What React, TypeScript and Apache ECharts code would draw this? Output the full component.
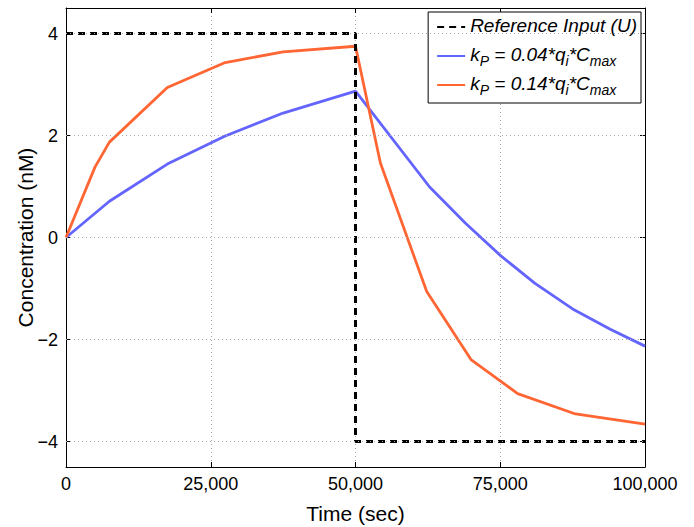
import React, { useEffect, useRef } from "react";
import * as echarts from "echarts";

const FONT = "'Liberation Sans', Arial, Helvetica, sans-serif";

const refT = [0, 50000, 50000, 100000];
const refV = [4, 4, -4, -4];

const blueT = [0, 7500, 17500, 27500, 37500, 50000, 62800, 69000, 75000, 81000, 87500, 94000, 100000];
const blueV = [0, 0.71, 1.44, 1.99, 2.44, 2.87, 0.99, 0.28, -0.35, -0.9, -1.4, -1.8, -2.13];

const orangeT = [0, 5000, 7500, 17500, 27500, 37500, 50000, 54300, 62300, 70000, 78000, 88000, 100000];
const orangeV = [0, 1.38, 1.87, 2.94, 3.43, 3.64, 3.75, 1.46, -1.06, -2.4, -3.06, -3.46, -3.66];

const xTicks = [0, 25000, 50000, 75000, 100000];
const yTicks = [-4, -2, 0, 2, 4];

const seriesNames = ["Reference Input (U)", "kP = 0.04*qi*Cmax", "kP = 0.14*qi*Cmax"];
const legendRichText: Record<string, string> = {
  "Reference Input (U)": "{n|Reference Input (U)}",
  "kP = 0.04*qi*Cmax": "{n|k}{s|P}{n| = 0.04*q}{s|i}{n|*C}{s|max}",
  "kP = 0.14*qi*Cmax": "{n|k}{s|P}{n| = 0.14*q}{s|i}{n|*C}{s|max}",
};

const zip = (t: number[], v: number[]) => t.map((x, i) => [x, v[i]]);
const fmtMinus = (v: number) => String(v).replace("-", "\u2212");
const fmtComma = (v: number) => v.toLocaleString("en-US");

export default function App() {
  const ref = useRef<HTMLDivElement>(null);
  useEffect(() => {
    if (!ref.current) return;
    const chart = echarts.init(ref.current, null, { renderer: "svg" });
    const axisLine = { show: true, onZero: false, lineStyle: { color: "#000", width: 1 } };
    const gridLineStyle = { color: "#aaaaaa", width: 1, type: [1, 3] as any };
    const tick = { show: true, inside: true, length: 5, lineStyle: { color: "#000" } };
    chart.setOption({
      animation: false,
      backgroundColor: "#fff",
      grid: { left: 66, right: 49, top: 8, bottom: 60, containLabel: false, outerBoundsMode: "none" },
      legend: {
        orient: "vertical",
        right: 53,
        top: 12,
        backgroundColor: "#fff",
        borderColor: "#000",
        borderWidth: 1,
        borderRadius: 0,
        padding: [3, 4, 6, 8],
        itemGap: 5,
        itemWidth: 28,
        itemHeight: 24,
        data: seriesNames,
        itemStyle: { color: "rgba(0,0,0,0)", borderWidth: 0 },
        formatter: (name: string) => legendRichText[name] || name,
        textStyle: {
          fontFamily: FONT,
          lineHeight: 24,
          rich: {
            n: {
              fontFamily: FONT,
              fontStyle: "italic",
              fontSize: 19,
              color: "#000",
              lineHeight: 24,
              verticalAlign: "top",
              padding: [1, 0, 0, 0],
            },
            s: {
              fontFamily: FONT,
              fontStyle: "italic",
              fontSize: 14,
              color: "#000",
              lineHeight: 24,
              verticalAlign: "bottom",
            },
          },
        },
      },
      xAxis: [
        {
          type: "value",
          min: 0,
          max: 100000,
          interval: 25000,
          position: "bottom",
          name: "Time (sec)",
          nameLocation: "middle",
          nameGap: 36,
          nameMoveOverlap: false,
          nameTextStyle: { fontFamily: FONT, fontSize: 21, color: "#000" },
          axisLine,
          axisTick: tick,
          axisLabel: { fontFamily: FONT, fontSize: 18, color: "#000", margin: 8, formatter: fmtComma },
          splitLine: { show: true, lineStyle: gridLineStyle },
        },
        {
          type: "value",
          min: 0,
          max: 100000,
          interval: 25000,
          position: "top",
          axisLine,
          axisTick: tick,
          axisLabel: { show: false },
          splitLine: { show: false },
        },
      ],
      yAxis: [
        {
          type: "value",
          min: -4.5,
          max: 4.5,
          position: "left",
          name: "Concentration (nM)",
          nameLocation: "middle",
          nameGap: 30,
          nameMoveOverlap: false,
          nameTextStyle: { fontFamily: FONT, fontSize: 21, color: "#000" },
          axisLine,
          axisTick: { ...tick, customValues: yTicks },
          axisLabel: { fontFamily: FONT, fontSize: 18, color: "#000", margin: 8, customValues: yTicks, formatter: fmtMinus },
          splitLine: { show: false },
        },
        {
          type: "value",
          min: -4.5,
          max: 4.5,
          position: "right",
          axisLine,
          axisTick: { ...tick, customValues: yTicks },
          axisLabel: { show: false, customValues: yTicks },
          splitLine: { show: false },
        },
      ],
      series: [
        {
          name: "grid",
          type: "line",
          data: [],
          z: 1,
          silent: true,
          markLine: {
            silent: true,
            symbol: "none",
            label: { show: false },
            lineStyle: gridLineStyle,
            emphasis: { disabled: true },
            data: yTicks.map((v) => ({ yAxis: v })),
          },
        },
        {
          name: seriesNames[0],
          type: "line",
          symbol: "none",
          data: zip(refT, refV),
          lineStyle: { color: "#000", width: 3, type: [7, 5] as any },
          itemStyle: { color: "#000" },
          z: 4,
        },
        {
          name: seriesNames[1],
          type: "line",
          symbol: "none",
          data: zip(blueT, blueV),
          lineStyle: { color: "#6464ff", width: 2.8 },
          itemStyle: { color: "#6464ff" },
          z: 3,
        },
        {
          name: seriesNames[2],
          type: "line",
          symbol: "none",
          data: zip(orangeT, orangeV),
          lineStyle: { color: "#ff6633", width: 2.8 },
          itemStyle: { color: "#ff6633" },
          z: 3,
        },
      ],
    });
    return () => chart.dispose();
  }, []);
  return <div ref={ref} style={{ position: "fixed", left: 0, top: 0, width: 694, height: 527 }} />;
}
